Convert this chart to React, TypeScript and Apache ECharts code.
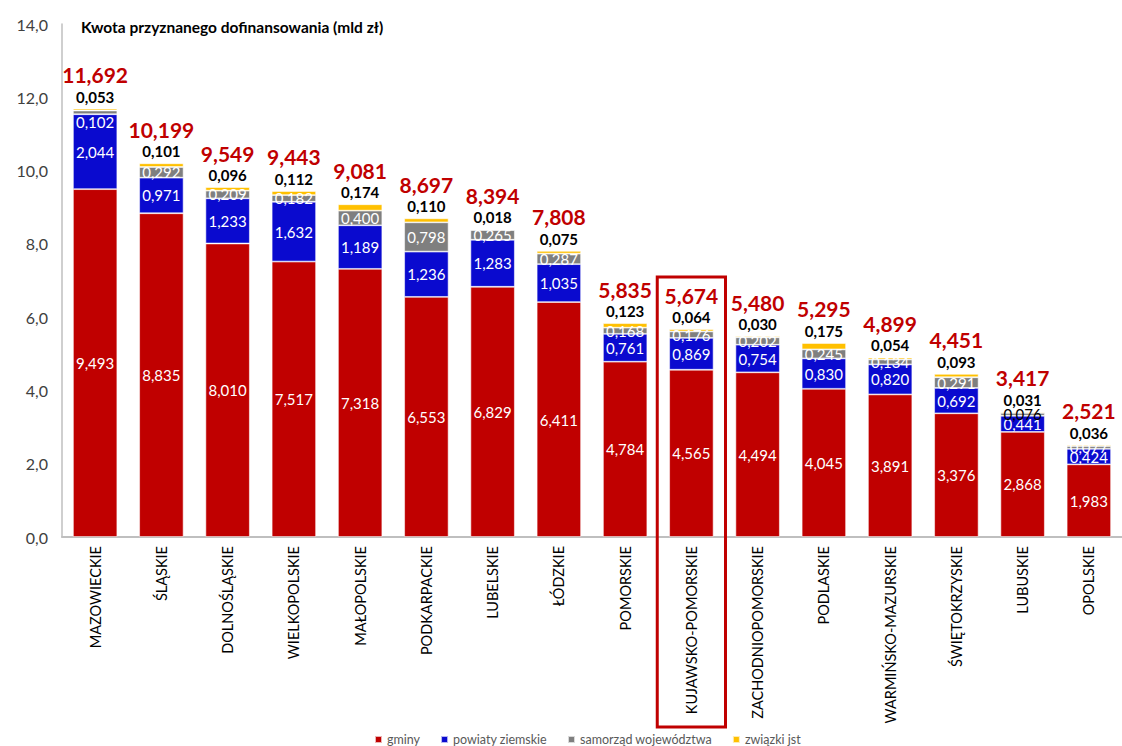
import React, { useEffect, useRef } from "react";
import * as echarts from "echarts";

const categories = [
  "MAZOWIECKIE", "ŚLĄSKIE", "DOLNOŚLĄSKIE", "WIELKOPOLSKIE", "MAŁOPOLSKIE",
  "PODKARPACKIE", "LUBELSKIE", "ŁÓDZKIE", "POMORSKIE", "KUJAWSKO-POMORSKIE",
  "ZACHODNIOPOMORSKIE", "PODLASKIE", "WARMIŃSKO-MAZURSKIE", "ŚWIĘTOKRZYSKIE",
  "LUBUSKIE", "OPOLSKIE",
];
const gminy = [9.493, 8.835, 8.010, 7.517, 7.318, 6.553, 6.829, 6.411, 4.784, 4.565, 4.494, 4.045, 3.891, 3.376, 2.868, 1.983];
const powiaty = [2.044, 0.971, 1.233, 1.632, 1.189, 1.236, 1.283, 1.035, 0.761, 0.869, 0.754, 0.830, 0.820, 0.692, 0.441, 0.424];
const samorzad = [0.102, 0.292, 0.209, 0.182, 0.400, 0.798, 0.265, 0.287, 0.168, 0.176, 0.202, 0.245, 0.134, 0.291, 0.076, 0.077];
const zwiazki = [0.053, 0.101, 0.096, 0.112, 0.174, 0.110, 0.018, 0.075, 0.123, 0.064, 0.030, 0.175, 0.054, 0.093, 0.031, 0.036];
const totals = [11.692, 10.199, 9.549, 9.443, 9.081, 8.697, 8.394, 7.808, 5.835, 5.674, 5.480, 5.295, 4.899, 4.451, 3.417, 2.521];
const seriesNames = ["gminy", "powiaty ziemskie", "samorząd województwa", "związki jst"];
const highlightIndex = 9;

const FONT = "Lato";
const fmt3 = (v: number) => v.toFixed(3).replace(".", ",");
const fmt1 = (v: number) => v.toFixed(1).replace(".", ",");

export default function App() {
  const ref = useRef<HTMLDivElement>(null);
  useEffect(() => {
    document.body.style.margin = "0";
    const chart = echarts.init(ref.current!, null, { renderer: "svg" });
    const inside = {
      show: true,
      position: "inside" as const,
      color: "#fff",
      fontFamily: FONT,
      fontSize: 15,
      formatter: (p: any) => fmt3(p.value),
    };
    const border = { borderColor: "rgba(255,255,255,0.7)", borderWidth: 0.8 };
    chart.setOption({
      animation: false,
      textStyle: { fontFamily: FONT },
      title: {
        text: "Kwota przyznanego dofinansowania (mld zł)",
        left: 76,
        top: 14,
        textStyle: { fontFamily: FONT, fontSize: 15.5, fontWeight: "bold", color: "#000" },
      },
      legend: {
        left: 369,
        top: 728,
        itemWidth: 7,
        itemHeight: 7,
        itemGap: 20,
        itemTextGap: 5,
        icon: "rect",
        textStyle: { fontFamily: FONT, fontSize: 12.5, color: "#595959" },
        data: seriesNames,
      },
      grid: { left: 62, width: 1064, top: 24, bottom: 209, containLabel: false },
      xAxis: {
        type: "category",
        data: categories,
        axisLine: { lineStyle: { color: "#bfbfbf", width: 2 } },
        axisTick: { show: false },
        axisLabel: {
          rotate: 90,
          interval: 0,
          margin: 9,
          fontFamily: FONT,
          fontSize: 14.5,
          color: "#000",
        },
      },
      yAxis: {
        type: "value",
        min: 0,
        max: 14,
        interval: 2,
        splitLine: { show: false },
        axisLine: { show: true, lineStyle: { color: "#bfbfbf", width: 1.5 } },
        axisTick: { show: false },
        axisLabel: {
          margin: 14,
          fontFamily: FONT,
          fontSize: 16,
          color: "#404040",
          formatter: (v: number) => fmt1(v),
        },
      },
      series: [
        {
          name: seriesNames[0],
          type: "bar",
          stack: "t",
          barWidth: "67%",
          data: gminy,
          itemStyle: { color: "#C00000", ...border },
          label: inside,
        },
        {
          name: seriesNames[1],
          type: "bar",
          stack: "t",
          data: powiaty,
          itemStyle: { color: "#0A0ACF", ...border },
          label: inside,
        },
        {
          name: seriesNames[2],
          type: "bar",
          stack: "t",
          data: samorzad.map((v, i) =>
            i === 14
              ? { value: v, label: { color: "#000" } }
              : i === 0
              ? { value: v, label: { offset: [0, 10] } }
              : v
          ),
          itemStyle: { color: "#7F7F7F", ...border },
          label: inside,
        },
        {
          name: seriesNames[3],
          type: "bar",
          stack: "t",
          data: zwiazki,
          itemStyle: { color: "#FFC000", ...border },
          label: {
            show: true,
            position: "top",
            distance: 2,
            fontFamily: FONT,
            formatter: (p: any) => `{t|${fmt3(totals[p.dataIndex])}}\n{v|${fmt3(p.value)}}`,
            rich: {
              t: { color: "#C00000", fontSize: 21, fontWeight: "bold", lineHeight: 24, fontFamily: FONT },
              v: { color: "#000", fontSize: 15, fontWeight: "bold", lineHeight: 20, fontFamily: FONT },
            },
          },
        },
      ],
    });
    const cx = chart.convertToPixel({ xAxisIndex: 0 }, highlightIndex) as number;
    const c0 = chart.convertToPixel({ xAxisIndex: 0 }, 0) as number;
    const c1 = chart.convertToPixel({ xAxisIndex: 0 }, 1) as number;
    const w = Math.abs(c1 - c0) + 2;
    chart.setOption({
      graphic: [
        {
          type: "rect",
          shape: { x: cx - w / 2, y: 277, width: w, height: 450 },
          style: { fill: "none", stroke: "#C00000", lineWidth: 3 },
          z: 10,
        },
      ],
    });
    return () => chart.dispose();
  }, []);
  return <div ref={ref} style={{ width: 1122, height: 746 }} />;
}
